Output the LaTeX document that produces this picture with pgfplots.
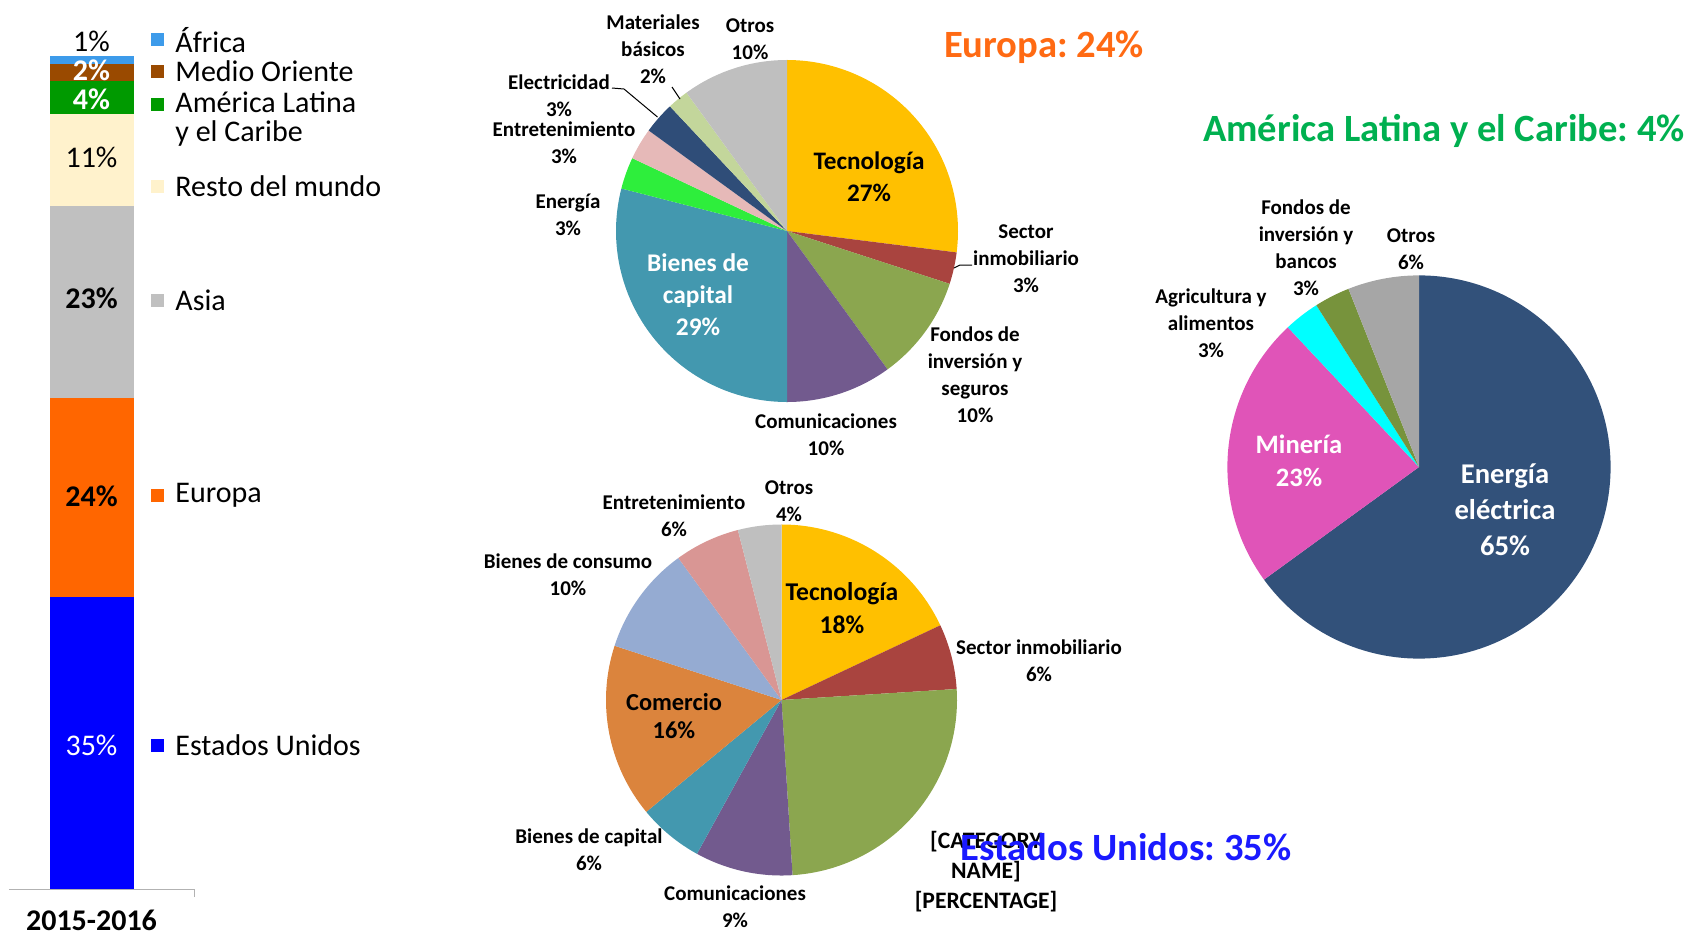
\documentclass[border=0pt]{standalone}
\usepackage{pgfplots}
\pgfplotsset{compat=1.18}
\usepackage{pgfplotstable}
\usepackage{fontspec}
\setmainfont{Carlito}
\frenchspacing

\definecolor{cEU}{HTML}{0000FF}
\definecolor{cEuropa}{HTML}{FF6600}
\definecolor{cAsia}{HTML}{C0C0C0}
\definecolor{cResto}{HTML}{FFF2CC}
\definecolor{cAL}{HTML}{009A00}
\definecolor{cMO}{HTML}{9A4A00}
\definecolor{cAf}{HTML}{3D9BEA}

\definecolor{pTec}{HTML}{FFC000}
\definecolor{pSec}{HTML}{A9443F}
\definecolor{pFon}{HTML}{8BA64F}
\definecolor{pCom}{HTML}{725A8E}
\definecolor{pBcap}{HTML}{4398AF}
\definecolor{pEne}{HTML}{2EEE3C}
\definecolor{pEnt}{HTML}{E6B9B8}
\definecolor{pEle}{HTML}{2F4D78}
\definecolor{pMat}{HTML}{C3D69B}
\definecolor{pOtr}{HTML}{BFBFBF}
\definecolor{pComer}{HTML}{DB843D}
\definecolor{pBcon}{HTML}{95ABD2}
\definecolor{pEntUS}{HTML}{D99694}
\definecolor{pEel}{HTML}{32517A}
\definecolor{pMin}{HTML}{E054B8}
\definecolor{pAgr}{HTML}{00FFFF}
\definecolor{pFonLA}{HTML}{77933C}
\definecolor{pOtrLA}{HTML}{A6A6A6}
\definecolor{tEuropa}{HTML}{FF6A13}
\definecolor{tAL}{HTML}{00B050}
\definecolor{tEU}{HTML}{1A1AFF}

\pgfplotstableread{
name val col
Tecnologia 27 pTec
Sector 3 pSec
Fondos 10 pFon
Comunicaciones 10 pCom
BienesCapital 29 pBcap
Energia 3 pEne
Entretenimiento 3 pEnt
Electricidad 3 pEle
Materiales 2 pMat
Otros 10 pOtr
}\europatab

\pgfplotstableread{
name val col
Tecnologia 18 pTec
Sector 6 pSec
Category 25 pFon
Comunicaciones 9 pCom
BienesCapital 6 pBcap
Comercio 16 pComer
BienesConsumo 10 pBcon
Entretenimiento 6 pEntUS
Otros 4 pOtr
}\ustab

\pgfplotstableread{
name val col
EnergiaElectrica 65 pEel
Mineria 23 pMin
Agricultura 3 pAgr
Fondos 3 pFonLA
Otros 6 pOtrLA
}\latab

\newcommand\drawpie[2]{%
  \pgfplotstablegetrowsof{#1}%
  \pgfmathtruncatemacro\pieN{\pgfplotsretval-1}%
  \def\cumul{90}%
  \pgfplotsforeachungrouped \i in {0,...,\pieN}{%
    \pgfplotstablegetelem{\i}{val}\of{#1}\let\sliceval\pgfplotsretval
    \pgfplotstablegetelem{\i}{col}\of{#1}\let\slicecol\pgfplotsretval
    \pgfmathsetmacro\endang{\cumul-3.6*\sliceval}%
    \pgfmathsetmacro\sx{#2*cos(\cumul)}%
    \pgfmathsetmacro\sy{#2*sin(\cumul)}%
    \edef\temp{\noexpand\fill[\slicecol] (axis cs:0,0) -- (axis cs:\sx,\sy) arc[start angle=\cumul, end angle=\endang, radius=#2pt] -- cycle;}%
    \temp
    \let\cumul\endang
  }%
}

\pgfplotsset{pieaxis/.style={anchor=center, hide axis, scale only axis, width=2*#1pt, height=2*#1pt,
  xmin=-#1, xmax=#1, ymin=-#1, ymax=#1, clip=false}}

\newcommand\fs[2]{\fontsize{#1}{#2}\selectfont}

\begin{document}
\begin{tikzpicture}
\useasboundingbox (0,0) rectangle (844pt,-466pt);

% stacked bar
\begin{axis}[at={(4.5pt,-444.5pt)}, anchor=south west, scale only axis,
  width=92.5pt, height=416.5pt, xmin=-41.25, xmax=51.25, ymin=0, ymax=100,
  ybar stacked, bar width=42pt, axis x line*=bottom, axis y line=none,
  x axis line style={-, draw=gray!60},
  xtick={0}, xticklabels={2015-2016},
  xticklabel style={font=\fs{15}{18}\bfseries, yshift=-7pt},
  major tick length=0pt, ytick=\empty,
  extra x ticks={51.25}, extra x tick labels={},
  extra x tick style={major tick length=4pt, tick align=outside, tick style={draw=gray!60}},
  clip=false]
\addplot[fill=cEU, draw=none] coordinates {(0,35)};
\addplot[fill=cEuropa, draw=none] coordinates {(0,24)};
\addplot[fill=cAsia, draw=none] coordinates {(0,23)};
\addplot[fill=cResto, draw=none] coordinates {(0,11)};
\addplot[fill=cAL, draw=none] coordinates {(0,4)};
\addplot[fill=cMO, draw=none] coordinates {(0,2)};
\addplot[fill=cAf, draw=none] coordinates {(0,1)};
\end{axis}

% Europa pie
\begin{axis}[pieaxis=85.5, at={(393.5pt,-115.5pt)}]
\drawpie{\europatab}{85.5}
\end{axis}

% Estados Unidos pie
\begin{axis}[pieaxis=87.75, at={(390.75pt,-350pt)}]
\drawpie{\ustab}{87.75}
\end{axis}

% America Latina pie
\begin{axis}[pieaxis=95.8, at={(709.5pt,-233.5pt)}]
\drawpie{\latab}{95.8}
\end{axis}

\begin{scope}[x=0.5pt, y=-0.5pt]
% bar value labels
\node[font=\fs{15}{18}, text=white] at (91.5,745) {35\%};
\node[font=\fs{15}{18}\bfseries] at (91.5,496) {24\%};
\node[font=\fs{15}{18}\bfseries] at (91.5,298) {23\%};
\node[font=\fs{15}{18}] at (91.5,157) {11\%};
\node[font=\fs{15}{18}\bfseries, text=white] at (91.5,99) {4\%};
\node[font=\fs{15}{18}\bfseries, text=white] at (91.5,70) {2\%};
\node[font=\fs{15}{18}] at (91.5,41) {1\%};

% legend of bar
\foreach \yy/\cc in {39.8/cAf, 71/cMO, 104.4/cAL, 186/cResto, 300/cAsia, 495/cEuropa, 745/cEU}{
  \fill[\cc] (150.5,\yy-6.5) rectangle (163.5,\yy+6.5);
}
\begin{scope}[every node/.style={anchor=west, font=\fs{15}{14.5}, inner sep=0pt, align=left}]
\node at (175,39.8) {África};
\node at (175,71) {Medio Oriente};
\node at (175,119) {América Latina\\y el Caribe};
\node at (175,186) {Resto del mundo};
\node at (175,300) {Asia};
\node at (175,495) {Europa};
\node at (175,745) {Estados Unidos};
\end{scope}

% Europa labels
\begin{scope}[every node/.style={align=center, font=\fs{10.5}{13.5}\bfseries, inner sep=0pt}]
\node at (653,49) {Materiales\\básicos\\2\%};
\node at (750,39) {Otros\\10\%};
\node at (559,95.5) {Electricidad\\3\%};
\node at (564,142.5) {Entretenimiento\\3\%};
\node at (568,215) {Energía\\3\%};
\node at (1026,258.5) {Sector\\inmobiliario\\3\%};
\node at (975,374.5) {Fondos de\\inversión y\\seguros\\10\%};
\node at (826,434.5) {Comunicaciones\\10\%};
% US labels
\node at (789,501.5) {Otros\\4\%};
\node at (674,516) {Entretenimiento\\6\%};
\node at (568,575) {Bienes de consumo\\10\%};
\node at (1039,661) {Sector inmobiliario\\6\%};
\node at (589,850) {Bienes de capital\\6\%};
\node at (735,907) {Comunicaciones\\9\%};
% LA labels
\node at (1306,247.5) {Fondos de\\inversión y\\bancos\\3\%};
\node at (1411,249.5) {Otros\\6\%};
\node at (1211,323) {Agricultura y\\alimentos\\3\%};
\end{scope}
\node[align=center, font=\fs{12.7}{16}\bfseries, text=white, inner sep=0pt] at (698,295) {Bienes de\\capital\\29\%};
\node[align=center, font=\fs{12.6}{16}\bfseries, inner sep=0pt] at (869,177) {Tecnología\\27\%};
\node[align=center, font=\fs{12.8}{16.5}\bfseries, inner sep=0pt] at (842,608.5) {Tecnología\\18\%};
\node[align=center, font=\fs{12.2}{14}\bfseries, inner sep=0pt] at (674,716) {Comercio\\16\%};
\node[align=center, font=\fs{11.8}{15}\bfseries, inner sep=0pt] at (986,871.5) {{[}CATEGORY\\NAME{]}\\{[}PERCENTAGE{]}};
\node[align=center, font=\fs{13.3}{16.5}\bfseries, text=white, inner sep=0pt] at (1299,460.5) {Minería\\23\%};
\node[align=center, font=\fs{14.3}{18}\bfseries, text=white, inner sep=0pt] at (1505,510) {Energía\\eléctrica\\65\%};

% leader lines
\draw[black, line width=0.5pt] (612,88) -- (624,89) -- (657.5,117);
\draw[black, line width=0.5pt] (672,87) -- (680,99);
\draw[black, line width=0.5pt] (954,268) -- (960,265) -- (972,265);

% titles
\node[font=\fs{19.3}{22}\bfseries, text=tEuropa, inner sep=0pt] at (1044,47) {Europa: 24\%};
\node[font=\fs{19.3}{22}\bfseries, text=tAL, inner sep=0pt] at (1444,131) {América Latina y el Caribe: 4\%};
\node[font=\fs{19.3}{22}\bfseries, text=tEU, inner sep=0pt] at (1126,847) {Estados Unidos: 35\%};
\end{scope}
\end{tikzpicture}
\end{document}
